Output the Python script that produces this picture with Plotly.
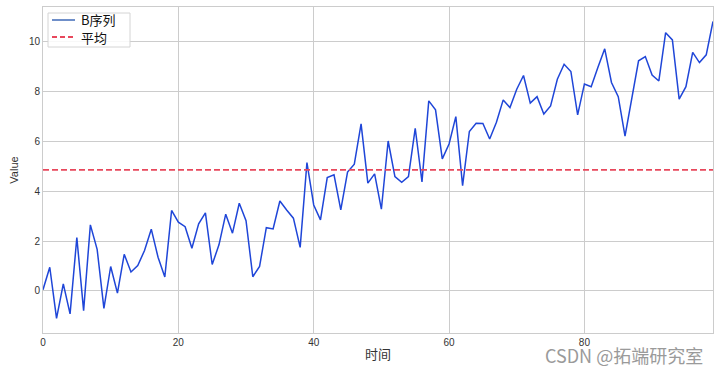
import plotly.graph_objects as go

x_values = list(range(100))
b_series = [
    0.05, 0.95, -1.10, 0.28, -0.92, 2.14, -0.79, 2.65, 1.67, -0.70,
    0.98, -0.09, 1.47, 0.76, 1.02, 1.62, 2.48, 1.35, 0.56, 3.23,
    2.76, 2.58, 1.71, 2.69, 3.13, 1.06, 1.85, 3.08, 2.32, 3.52,
    2.82, 0.57, 0.98, 2.54, 2.49, 3.61, 3.25, 2.92, 1.75, 5.15,
    3.45, 2.85, 4.55, 4.66, 3.25, 4.77, 5.09, 6.71, 4.33, 4.70,
    3.28, 6.02, 4.59, 4.36, 4.59, 6.53, 4.38, 7.63, 7.27, 5.30,
    5.90, 7.00, 4.23, 6.40, 6.73, 6.72, 6.10, 6.77, 7.67, 7.36,
    8.10, 8.65, 7.54, 7.80, 7.10, 7.43, 8.50, 9.10, 8.81, 7.07,
    8.31, 8.20, 8.98, 9.72, 8.37, 7.80, 6.22, 7.74, 9.24, 9.41,
    8.67, 8.43, 10.37, 10.08, 7.70, 8.20, 9.58, 9.17, 9.48, 10.82,
]
mean_value = 4.86
x_ticks = [0, 20, 40, 60, 80]
y_ticks = [0, 2, 4, 6, 8, 10]
legend_labels = ["B序列", "平均"]

line_color = "#1f46d8"
legend_line_color = "#6f8fc9"
mean_color = "#e8485c"
grid = "#cccccc"
font_cjk = "Noto Sans CJK SC"

W, H = 719, 374
ML, MR, MT, MB = 43, 6, 7, 41
PW, PH = W - ML - MR, H - MT - MB


def px(xp):
    return (xp - ML) / PW


def py(yp):
    return (H - MB - yp) / PH


fig = go.Figure()
fig.add_trace(go.Scatter(x=x_values, y=b_series, mode="lines",
                         line=dict(color=line_color, width=1.5),
                         showlegend=False))
fig.add_trace(go.Scatter(x=[x_values[0], x_values[-1]], y=[mean_value, mean_value],
                         mode="lines", line=dict(color=mean_color, width=1.8, dash="6px,3px"),
                         showlegend=False))

axis_common = dict(showgrid=True, gridcolor=grid, gridwidth=1, showline=True,
                   linecolor=grid, linewidth=1, mirror=True, zeroline=False,
                   ticks="", tickfont=dict(family="Liberation Sans, Arial", size=10, color="#333333"))

# manual legend (box, samples, labels)
shapes = [
    dict(type="rect", xref="paper", yref="paper", x0=px(48), x1=px(130), y0=py(47), y1=py(13),
         line=dict(color="#d4d4d4", width=1), fillcolor="rgba(255,255,255,0.85)", layer="above"),
    dict(type="line", xref="paper", yref="paper", x0=px(52), x1=px(75), y0=py(20), y1=py(20),
         line=dict(color=legend_line_color, width=2), layer="above"),
    dict(type="line", xref="paper", yref="paper", x0=px(52), x1=px(75), y0=py(37), y1=py(37),
         line=dict(color=mean_color, width=2, dash="5px,3px"), layer="above"),
]
annotations = [
    dict(text=legend_labels[0], xref="paper", yref="paper", x=px(79), y=py(20),
         xanchor="left", yanchor="middle", showarrow=False,
         font=dict(family=font_cjk, size=13, color="#111111")),
    dict(text=legend_labels[1], xref="paper", yref="paper", x=px(79), y=py(37),
         xanchor="left", yanchor="middle", showarrow=False,
         font=dict(family=font_cjk, size=13, color="#111111")),
    dict(text="CSDN @拓端研究室", xref="paper", yref="paper",
         x=px(705), y=py(355), xanchor="right", yanchor="middle", showarrow=False,
         font=dict(family=font_cjk, size=18, color="#9a9a9a")),
]

fig.update_layout(
    width=W, height=H,
    margin=dict(l=ML, r=MR, t=MT, b=MB),
    paper_bgcolor="white", plot_bgcolor="white",
    showlegend=False,
    xaxis=dict(range=[0, 99], tickvals=x_ticks, **axis_common,
               title=dict(text="时间", font=dict(family=font_cjk, size=13, color="#333333"), standoff=2)),
    yaxis=dict(range=[-1.69, 11.4], tickvals=y_ticks, **axis_common,
               title=dict(text="Value", font=dict(family="Liberation Sans, Arial", size=11, color="#333333"), standoff=8)),
    shapes=shapes,
    annotations=annotations,
)

fig.write_html("out.html")
